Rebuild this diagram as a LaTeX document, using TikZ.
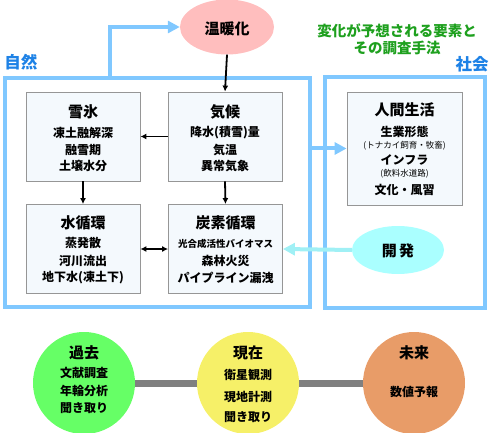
\documentclass[tikz,border=0pt]{standalone}
\usepackage{fontspec}
\setmainfont{Noto Sans CJK JP}
\usetikzlibrary{arrows.meta,shapes.geometric}
\definecolor{frameblue}{RGB}{128,200,255}
\definecolor{labelblue}{RGB}{30,130,230}
\definecolor{boxfill}{RGB}{244,249,253}
\definecolor{boxline}{RGB}{150,150,150}
\definecolor{warmpink}{RGB}{255,190,190}
\definecolor{devcyan}{RGB}{170,255,255}
\definecolor{devline}{RGB}{160,240,245}
\definecolor{titlegreen}{RGB}{30,160,30}
\definecolor{pastgreen}{RGB}{102,255,102}
\definecolor{nowyellow}{RGB}{246,240,104}
\definecolor{futorange}{RGB}{232,156,104}
\definecolor{bargray}{RGB}{128,128,128}
\tikzset{
  frame/.style={draw=frameblue,line width=4pt,inner sep=0pt},
  elembox/.style={draw=boxline,fill=boxfill,line width=0.8pt,inner sep=0pt,minimum width=114pt,minimum height=89pt},
  ttl/.style={font=\fontsize{15}{17}\selectfont\bfseries,inner sep=0pt},
  body/.style={font=\fontsize{12}{14}\selectfont\bfseries,inner sep=0pt},
  small/.style={font=\fontsize{8.5}{10}\selectfont,inner sep=0pt},
  blk/.style={-{Latex[length=6pt,width=6pt]},line width=1.8pt},
  dblk/.style={{Latex[length=6pt,width=6pt]}-{Latex[length=6pt,width=6pt]},line width=1.8pt},
  bluearrow/.style={draw=frameblue,line width=4pt,-{Triangle[length=12pt,width=12pt]}},
  devarrow/.style={draw=devline,line width=4pt,-{Triangle[length=12pt,width=12pt]}},
  circ/.style={circle,minimum size=102pt,inner sep=0pt}
}
\begin{document}
\begin{tikzpicture}[x=1pt,y=-1pt]
\useasboundingbox (0,0) rectangle (490,433);
% frames
\node[frame,minimum width=305pt,minimum height=229pt] (nat) at (157.5,192.5) {};
\node[frame,minimum width=160pt,minimum height=231pt] (soc) at (405,192.5) {};
\node[font=\fontsize{16.5}{18}\selectfont\bfseries,text=labelblue,inner sep=0pt] (natlbl) at (21,62) {自然};
\node[font=\fontsize{16.5}{18}\selectfont\bfseries,text=labelblue,inner sep=0pt] (soclbl) at (472,64) {社会};
\node[font=\fontsize{14.5}{16}\selectfont\bfseries,text=titlegreen,inner sep=0pt,align=center] (head) at (397,39) {変化が予想される要素と\\[1pt]その調査手法};
% warming
\node[ellipse,fill=warmpink,minimum width=94pt,minimum height=55pt,inner sep=0pt] (warm) at (227,27) {};
\node[ttl] (warmt) at (227,29) {温暖化};
% boxes
\node[elembox] (snow) at (83,136.5) {};
\node[elembox] (clim) at (225,136.5) {};
\node[elembox] (water) at (83,249) {};
\node[elembox] (carb) at (225.5,249) {};
\node[draw=boxline,fill=boxfill,line width=0.8pt,minimum width=115pt,minimum height=113pt,inner sep=0pt] (hum) at (404.5,148.5) {};
\node[ellipse,fill=devcyan,minimum width=92pt,minimum height=48pt,inner sep=0pt] (dev) at (398,250) {};
% texts in boxes
\node[ttl] (snowt) at (83,112) {雪氷};
\node[body] (snow1) at (83,133) {凍土融解深};
\node[body] (snow2) at (83,150) {融雪期};
\node[body] (snow3) at (83,166) {土壌水分};
\node[ttl] (climt) at (225,112) {気候};
\node[body] (clim1) at (225,133) {降水(積雪)量};
\node[body] (clim2) at (225,150) {気温};
\node[body] (clim3) at (225,166) {異常気象};
\node[ttl] (watert) at (83,223) {水循環};
\node[body] (water1) at (83,243) {蒸発散};
\node[body] (water2) at (83,261) {河川流出};
\node[body] (water3) at (83,278) {地下水(凍土下)};
\node[ttl] (carbt) at (225.5,223) {炭素循環};
\node[font=\fontsize{9.5}{11}\selectfont\bfseries,inner sep=0pt] (carb1) at (225.5,244) {光合成活性バイオマス};
\node[body] (carb2) at (225.5,261) {森林火災};
\node[body] (carb3) at (225.5,278) {パイプライン漏洩};
\node[ttl] (humt) at (404.5,110) {人間生活};
\node[body] (hum1) at (404.5,132) {生業形態};
\node[small] (hum2) at (404.5,146) {(トナカイ飼育・牧畜)};
\node[body] (hum3) at (404.5,160) {インフラ};
\node[small] (hum4) at (404.5,174) {(飲料水道路)};
\node[body] (hum5) at (404.5,190) {文化・風習};
\node[ttl] (devt) at (398,251) {開\,発};
% connectors
\draw[blk] (warm.south) -- (clim.north);
\draw[blk] (clim.west) -- (snow.east);
\draw[blk] (snow.south) -- (water.north);
\draw[blk] (clim.south) -- (carb.north);
\draw[dblk] (water.east) -- (carb.west);
\draw[bluearrow] ([xshift=-47.5pt]nat.north) |- (warm.west);
\draw[bluearrow] (nat.east |- hum.west) -- (hum.west);
\draw[devarrow] (dev.west) -- (carb.east);
% bottom timeline
\node[circ,fill=pastgreen] (past) at (84,383) {};
\node[circ,fill=nowyellow] (now) at (248,383) {};
\node[circ,fill=futorange] (fut) at (414,383) {};
\draw[bargray,line width=7pt] (past.east) -- (now.west);
\draw[bargray,line width=7pt] (now.east) -- (fut.west);
\node[ttl] (pastt) at (84,353) {過去};
\node[body] (past1) at (84,373) {文献調査};
\node[body] (past2) at (84,391) {年輪分析};
\node[body] (past3) at (84,408) {聞き取り};
\node[ttl] (nowt) at (248,353) {現在};
\node[body] (now1) at (248,375) {衛星観測};
\node[body] (now2) at (248,397) {現地計測};
\node[body] (now3) at (248,417) {聞き取り};
\node[ttl] (futt) at (414,353) {未来};
\node[body] (fut1) at (414,392) {数値予報};
\end{tikzpicture}
\end{document}
